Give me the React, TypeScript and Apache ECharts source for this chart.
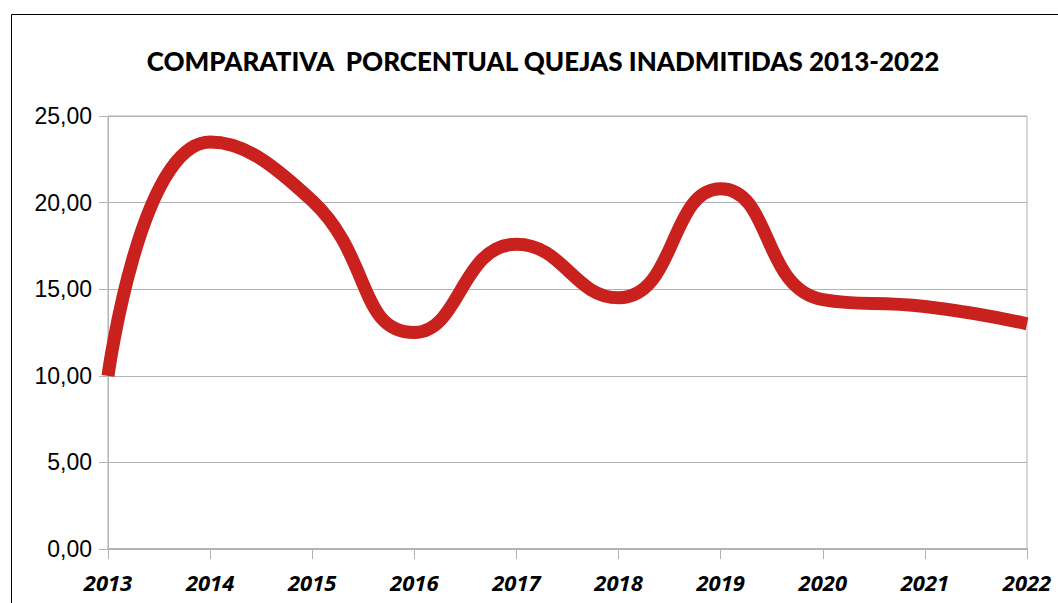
import React, { useEffect, useRef } from "react";
import * as echarts from "echarts";

const years = ["2013", "2014", "2015", "2016", "2017", "2018", "2019", "2020", "2021", "2022"];
const percentages = [10.0, 23.5, 20.1, 12.5, 17.6, 14.5, 20.8, 14.4, 14.0, 13.0];
const titleText = "COMPARATIVA  PORCENTUAL QUEJAS INADMITIDAS 2013-2022";

export default function App() {
  const ref = useRef<HTMLDivElement>(null);
  useEffect(() => {
    const chart = echarts.init(ref.current!, null, { renderer: "svg" });
    chart.setOption({
      animation: false,
      backgroundColor: "#ffffff",
      title: {
        text: titleText,
        left: 543,
        textAlign: "center",
        top: 48,
        padding: 0,
        textStyle: { fontFamily: "Lato", fontWeight: 900, fontSize: 26, color: "#000000" },
      },
      graphic: [
        {
          type: "rect",
          shape: { x: 11.5, y: 14.5, width: 1200, height: 800 },
          style: { fill: "none", stroke: "#000000", lineWidth: 1 },
          silent: true,
        },
      ],
      grid: { left: 108, right: 31, top: 116, bottom: 54, show: true, borderColor: "#b3b3b3", borderWidth: 1 },
      xAxis: {
        type: "category",
        data: years,
        boundaryGap: false,
        axisLine: { lineStyle: { color: "#b3b3b3", width: 2 } },
        axisTick: { show: true, length: 10, lineStyle: { color: "#b3b3b3" } },
        axisLabel: {
          margin: 22,
          fontFamily: "Open Sans",
          fontWeight: "bold",
          fontStyle: "italic",
          fontSize: 22,
          color: "#000000",
        },
        splitLine: { show: false },
      },
      yAxis: {
        type: "value",
        min: 0,
        max: 25,
        interval: 5,
        axisLine: { show: true, lineStyle: { color: "#b3b3b3" } },
        axisTick: { show: true, length: 9, lineStyle: { color: "#b3b3b3" } },
        axisLabel: {
          margin: 16,
          fontFamily: "Liberation Sans",
          fontSize: 23,
          color: "#000000",
          formatter: (v: number) => v.toFixed(2).replace(".", ","),
        },
        splitLine: { show: true, lineStyle: { color: "#b3b3b3", width: 1 } },
      },
      series: [
        {
          type: "line",
          data: percentages,
          smooth: 0.5,
          symbol: "none",
          lineStyle: { color: "#c9211e", width: 13, cap: "butt" },
        },
      ],
    });
    return () => chart.dispose();
  }, []);
  return <div ref={ref} style={{ position: "fixed", left: 0, top: 0, width: 1058, height: 603 }} />;
}
